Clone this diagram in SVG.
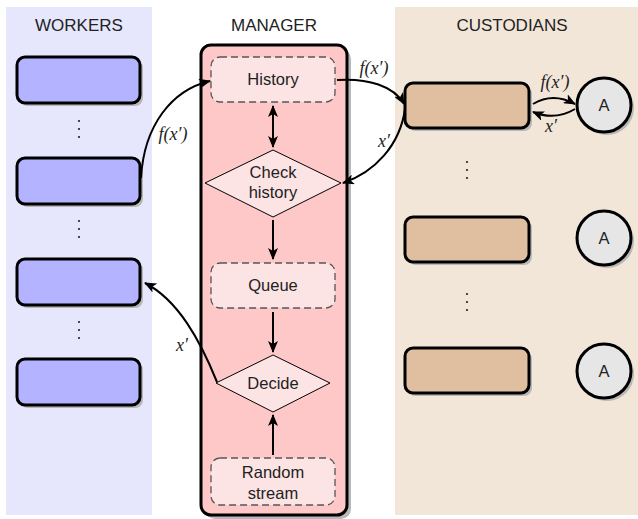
<svg xmlns="http://www.w3.org/2000/svg" width="638" height="519" viewBox="0 0 638 519">
<defs>
<marker id="ah" viewBox="0 0 12 10" refX="11" refY="5" markerWidth="12" markerHeight="10" markerUnits="userSpaceOnUse" orient="auto-start-reverse">
<path d="M0,0 L12,5 L0,10 L3,5 Z" fill="#000"/>
</marker>
<style>
.title{font-family:"Liberation Sans",Arial,sans-serif;font-size:17px;fill:#222;text-anchor:middle}
.lbl{font-family:"Liberation Sans",Arial,sans-serif;font-size:16.5px;fill:#222;text-anchor:middle}
.math{font-family:"Liberation Serif","Times New Roman",serif;font-style:italic;font-size:18px;fill:#222;text-anchor:middle}
.shadow{fill:#b8b8b8}
.worker{fill:#b3b3ff;stroke:#000;stroke-width:3}
.cust{fill:#dfbf9f;stroke:#000;stroke-width:3}
.circ{fill:#e6e6e6;stroke:#000;stroke-width:3}
.dash{fill:#fde4e4;stroke:#555;stroke-width:1.3;stroke-dasharray:7,4}
.dia{fill:#fde4e4;stroke:#000;stroke-width:1}
.conn{fill:none;stroke:#000;stroke-width:2}
.dot{fill:#222}
</style>
</defs>
<rect width="638" height="519" fill="#fff"/>
<g id="backgrounds">
<rect x="6" y="7" width="146" height="508" fill="#e6e6fc"/>
<rect x="395" y="7" width="243" height="508" fill="#f2e6d9"/>
<text class="title" x="79" y="31">WORKERS</text>
<text class="title" x="274" y="31">MANAGER</text>
<text class="title" x="512" y="31">CUSTODIANS</text>
</g>
<g id="manager">
<rect class="shadow" x="205" y="49" width="146" height="470" rx="10"/>
<rect x="201" y="45" width="146" height="470" rx="10" fill="#ffc8c8" stroke="#000" stroke-width="3"/>
</g>
<g id="workers">
<g id="w1"><rect class="shadow" x="20" y="60" width="123" height="46" rx="8"/><rect class="worker" x="17" y="57" width="123" height="46" rx="8"/></g>
<g id="w2"><rect class="shadow" x="20" y="161" width="123" height="46" rx="8"/><rect class="worker" x="17" y="158" width="123" height="46" rx="8"/></g>
<g id="w3"><rect class="shadow" x="20" y="262" width="123" height="46" rx="8"/><rect class="worker" x="17" y="259" width="123" height="46" rx="8"/></g>
<g id="w4"><rect class="shadow" x="20" y="362" width="123" height="46" rx="8"/><rect class="worker" x="17" y="359" width="123" height="46" rx="8"/></g>
<g id="wdots">
<circle class="dot" cx="79" cy="121" r="1.1"/><circle class="dot" cx="79" cy="129" r="1.1"/><circle class="dot" cx="79" cy="137" r="1.1"/>
<circle class="dot" cx="79" cy="221" r="1.1"/><circle class="dot" cx="79" cy="229" r="1.1"/><circle class="dot" cx="79" cy="237" r="1.1"/>
<circle class="dot" cx="79" cy="322" r="1.1"/><circle class="dot" cx="79" cy="330" r="1.1"/><circle class="dot" cx="79" cy="338" r="1.1"/>
</g>
</g>
<g id="history"><rect class="dash" x="211" y="57" width="124" height="45" rx="9"/><text class="lbl" x="273" y="85">History</text></g>
<g id="checkhistory"><polygon class="dia" points="273,150 341,183 273,217 205,183"/><text class="lbl" x="273" y="178">Check</text><text class="lbl" x="273" y="198">history</text></g>
<g id="queue"><rect class="dash" x="211" y="263" width="124" height="45" rx="9"/><text class="lbl" x="273" y="291">Queue</text></g>
<g id="decide"><polygon class="dia" points="273,355 330,383 273,412 216,383"/><text class="lbl" x="273" y="389">Decide</text></g>
<g id="random"><rect class="dash" x="211" y="458" width="124" height="47" rx="9"/><text class="lbl" x="273" y="478">Random</text><text class="lbl" x="273" y="499">stream</text></g>
<g id="custodians">
<g id="c1"><rect class="shadow" x="408" y="86" width="124" height="45" rx="8"/><rect class="cust" x="405" y="83" width="124" height="45" rx="8"/></g>
<g id="c2"><rect class="shadow" x="408" y="220" width="124" height="45" rx="8"/><rect class="cust" x="405" y="217" width="124" height="45" rx="8"/></g>
<g id="c3"><rect class="shadow" x="408" y="351" width="124" height="45" rx="8"/><rect class="cust" x="405" y="348" width="124" height="45" rx="8"/></g>
<g id="a1"><circle class="shadow" cx="607" cy="108" r="27"/><circle class="circ" cx="604" cy="105" r="27"/><text class="lbl" x="604" y="111">A</text></g>
<g id="a2"><circle class="shadow" cx="607" cy="241" r="27"/><circle class="circ" cx="604" cy="238" r="27"/><text class="lbl" x="604" y="244">A</text></g>
<g id="a3"><circle class="shadow" cx="607" cy="374" r="27"/><circle class="circ" cx="604" cy="371" r="27"/><text class="lbl" x="604" y="377">A</text></g>
<g id="cdots">
<circle class="dot" cx="467" cy="162" r="1.1"/><circle class="dot" cx="467" cy="170" r="1.1"/><circle class="dot" cx="467" cy="178" r="1.1"/>
<circle class="dot" cx="467" cy="294" r="1.1"/><circle class="dot" cx="467" cy="302" r="1.1"/><circle class="dot" cx="467" cy="310" r="1.1"/>
</g>
</g>
<g id="connectors">
<line class="conn" x1="273" y1="106" x2="273" y2="147" marker-start="url(#ah)" marker-end="url(#ah)"/>
<line class="conn" x1="273" y1="220" x2="273" y2="259" marker-end="url(#ah)"/>
<line class="conn" x1="273" y1="312" x2="273" y2="352" marker-end="url(#ah)"/>
<line class="conn" x1="273" y1="455" x2="273" y2="415" marker-end="url(#ah)"/>
<path class="conn" d="M141,178 C144,125 172,90 210,81" marker-end="url(#ah)"/>
<text class="math" x="173" y="140">f(x′)</text>
<path class="conn" d="M337,80 C368,78 394,86 404,104" marker-end="url(#ah)"/>
<text class="math" x="374" y="74">f(x′)</text>
<path class="conn" d="M405,109 C400,145 375,172 343,183" marker-end="url(#ah)"/>
<text class="math" x="384" y="147">x′</text>
<path class="conn" d="M217,382 C200,340 178,300 145,283" marker-end="url(#ah)"/>
<text class="math" x="182" y="351">x′</text>
<path class="conn" d="M533,104 Q553,92 575,104" marker-end="url(#ah)"/>
<text class="math" x="555" y="88">f(x′)</text>
<path class="conn" d="M575,109 Q555,121 533,112" marker-end="url(#ah)"/>
<text class="math" x="551" y="132">x′</text>
</g>
</svg>
